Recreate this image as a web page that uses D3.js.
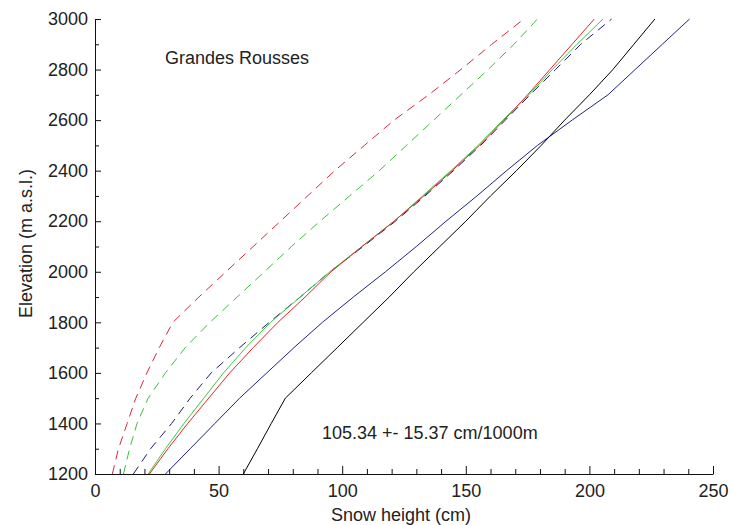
<!DOCTYPE html>
<html>
<head>
<meta charset="utf-8">
<script src="https://cdn.jsdelivr.net/npm/d3@7"></script>
<style>
  html, body { margin: 0; padding: 0; background: #fff; }
  svg { display: block; }
  text { font-family: "Liberation Sans", Arial, sans-serif; fill: #222; }
</style>
</head>
<body>
<svg id="chart" width="731" height="525"></svg>
<script>
// ---- data ----
const elevation = [1200,1300,1400,1500,1600,1700,1800,1900,2000,2100,2200,2300,2400,2500,2600,2700,2800,2900,3000];

const redDashed   = [7,9.5,13,16.5,21,26,31.5,42,53,64,75,86,97,109,121,135,148,160.5,173.5];
const greenDashed = [11.5,14,17,21.5,28.5,36.5,46.5,57.5,68.5,79.5,91,103,115,126,137,148,159,169.5,179];
const navyDashed  = [15.5,22.5,31,38.5,47,58.5,70.5,83,95,108.5,121.5,133.5,145,156,166,176,186.3,196.5,209];
const greenSolid  = [21.5,28.5,36,44,52,61,71,83,95,108,121,132.5,144,155,165,175.5,185,195,205.5];
const redSolid    = [22,29.5,37.5,46,54.5,64,74,85,95.5,108,121,133,144.5,155.5,165.5,175,184,193,202];
const navySolid   = [28.5,38.5,48.5,58.5,69.5,80.5,92,104.5,117.5,130,142,154.5,166.5,179,193,207.5,218.5,229.5,240.5];
const blackSolid  = [60,65.7,71.3,77,87.5,98,108.5,119,129,139.5,150,160,170.5,180.5,190,200,209.5,218,226.5];

const xTicks = [0,50,100,150,200,250];
const yTicks = [1200,1400,1600,1800,2000,2200,2400,2600,2800,3000];

const title = "Grandes Rousses";
const annotation = "105.34 +- 15.37 cm/1000m";
const xLabel = "Snow height (cm)";
const yLabel = "Elevation (m a.s.l.)";

// ---- series table ----
const series = [
  { name: "redDashed",   values: redDashed,   color: "#d8283c", dash: "9,6" },
  { name: "greenDashed", values: greenDashed, color: "#3cc03c", dash: "9,6" },
  { name: "navyDashed",  values: navyDashed,  color: "#1e1e6e", dash: "9,6" },
  { name: "greenSolid",  values: greenSolid,  color: "#3cc83c", dash: null },
  { name: "redSolid",    values: redSolid,    color: "#e02828", dash: null },
  { name: "navySolid",   values: navySolid,   color: "#20208c", dash: null },
  { name: "blackSolid",  values: blackSolid,  color: "#000000", dash: null }
];

// ---- layout ----
const svg = d3.select("#chart");
const mLeft = 95, mRight = 713, mTop = 19, mBottom = 474;

const x = d3.scaleLinear().domain([0, 250]).range([mLeft, mRight]);
const y = d3.scaleLinear().domain([1200, 3000]).range([mBottom, mTop]);

// minor ticks
const xMinor = d3.range(0, 251, 10).filter(v => !xTicks.includes(v));
const yMinor = d3.range(1200, 3001, 100).filter(v => !yTicks.includes(v));

svg.append("g")
  .attr("transform", `translate(0,${mBottom})`)
  .call(d3.axisBottom(x).tickValues(xMinor).tickFormat("").tickSizeInner(-5).tickSizeOuter(0))
  .call(g => g.select(".domain").remove());

svg.append("g")
  .attr("transform", `translate(${mLeft},0)`)
  .call(d3.axisLeft(y).tickValues(yMinor).tickFormat("").tickSizeInner(-4).tickSizeOuter(0))
  .call(g => g.select(".domain").remove());

svg.append("g")
  .attr("transform", `translate(0,${mBottom})`)
  .call(d3.axisBottom(x).tickValues(xTicks).tickFormat(d3.format("d")).tickSizeInner(-8).tickSizeOuter(0).tickPadding(10));

svg.append("g")
  .attr("transform", `translate(${mLeft},0)`)
  .call(d3.axisLeft(y).tickValues(yTicks).tickFormat(d3.format("d")).tickSizeInner(-6).tickSizeOuter(0).tickPadding(7));

svg.selectAll(".tick text")
  .style("font-family", '"Liberation Sans", Arial, sans-serif')
  .style("font-size", "18px")
  .attr("fill", "#222");
svg.selectAll(".domain, .tick line").attr("stroke", "#111");

// lines
const line = d3.line()
  .x(d => x(d[0]))
  .y(d => y(d[1]));

series.forEach(s => {
  const pts = s.values.map((v, i) => [v, elevation[i]]);
  svg.append("path")
    .datum(pts)
    .attr("fill", "none")
    .attr("stroke", s.color)
    .attr("stroke-width", 1)
    .attr("stroke-dasharray", s.dash)
    .attr("d", line);
});

// texts
svg.append("text")
  .attr("x", 165).attr("y", 64)
  .style("font-size", "18px")
  .text(title);

svg.append("text")
  .attr("x", 322).attr("y", 439)
  .style("font-size", "18px")
  .text(annotation);

svg.append("text")
  .attr("x", (mLeft + mRight) / 2 - 3).attr("y", 521)
  .attr("text-anchor", "middle")
  .style("font-size", "18px")
  .text(xLabel);

svg.append("text")
  .attr("transform", `translate(32,${(mTop + mBottom) / 2 - 3}) rotate(-90)`)
  .attr("text-anchor", "middle")
  .style("font-size", "18px")
  .text(yLabel);
</script>
</body>
</html>
